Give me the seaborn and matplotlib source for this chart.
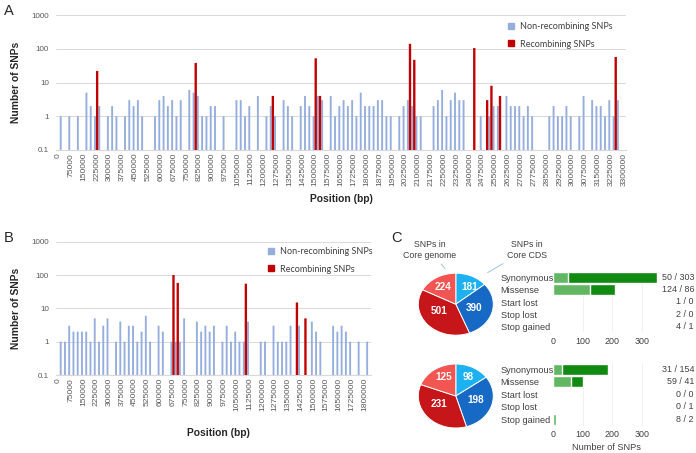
import matplotlib
matplotlib.use('Agg')
import matplotlib.pyplot as plt
from matplotlib.patches import Patch
from matplotlib.transforms import blended_transform_factory
import seaborn as sns

######### DATA #########
BIN = 25000  # bp per category

# panel A - whole genome, bin index (x25000 bp) and SNP counts
a_blue_bin = [0, 2, 4, 6, 7, 8, 9, 11, 12, 13, 15, 16, 17, 18, 19,
              22, 23, 24, 25, 26, 27, 28, 30, 31, 32, 33, 34, 35, 36, 38,
              41, 42, 43, 44, 46, 48, 49, 50, 52, 53, 54, 56, 57, 58, 59, 60, 61,
              63, 64, 65, 66, 67, 68, 69, 70, 71, 72, 73, 74, 75, 76, 77,
              79, 80, 81, 82, 83, 84, 87, 88, 89, 90, 91, 92, 93, 94, 98,
              100, 101, 102, 104, 105, 106, 107, 108, 109, 110,
              114, 115, 116, 117, 118, 119, 121, 122, 124, 125, 126, 127, 128, 129, 130]
a_blue_n = [1, 1, 1, 5, 2, 1, 2, 1, 2, 1, 1, 3, 2, 3, 1,
            1, 3, 4, 2, 3, 1, 3, 6, 5, 4, 1, 1, 2, 2, 1,
            3, 3, 1, 2, 4, 1, 2, 1, 3, 2, 1, 2, 4, 2, 1, 4, 3,
            4, 1, 2, 3, 2, 3, 1, 5, 2, 2, 2, 3, 3, 1, 1,
            1, 2, 3, 2, 1, 1, 2, 3, 6, 1, 3, 5, 3, 3, 1,
            1, 2, 2, 4, 2, 2, 2, 1, 2, 1,
            1, 2, 1, 1, 2, 1, 1, 4, 3, 2, 2, 1, 3, 1, 3]
a_red_bin = [9, 32, 50, 60, 61, 82, 83, 97, 100, 101, 103, 130]
a_red_n = [22, 38, 4, 52, 4, 140, 47, 105, 3, 8, 4, 57]
a_end = 3300000  # start of last bin

# panel B
b_blue_bin = [0, 1, 2, 3, 4, 5, 6, 7, 8, 9, 10, 11, 13, 14, 15, 16, 17, 18, 19, 20, 21,
              23, 24, 26, 27, 28, 29, 32, 33, 34, 35, 36, 38, 39, 40, 41, 42, 43, 44,
              47, 48, 50, 51, 52, 53, 54, 56, 59, 60, 61, 64, 65, 66, 67, 68, 70, 72]
b_blue_n = [1, 1, 3, 2, 2, 2, 2, 1, 5, 1, 3, 5, 1, 4, 1, 3, 3, 1, 2, 6, 1,
            3, 2, 1, 1, 1, 5, 4, 2, 3, 2, 3, 1, 3, 1, 2, 1, 1, 4,
            1, 1, 3, 1, 1, 1, 3, 3, 4, 2, 1, 3, 2, 3, 2, 1, 1, 1]
b_red_bin = [27, 28, 44, 56, 58]
b_red_n = [100, 58, 55, 15, 5]
b_end = 1825000

# panel C
c_types = ['Synonymous', 'Missense', 'Start lost', 'Stop lost', 'Stop gained']
c1_light = [50, 124, 1, 2, 4]
c1_dark = [303, 86, 0, 0, 1]
c2_light = [31, 59, 0, 0, 8]
c2_dark = [154, 41, 0, 1, 2]
pie1 = [181, 390, 501, 224]   # clockwise from top
pie2 = [98, 198, 231, 125]

BLUE = '#95AEDE'
RED = '#C00000'
GRID = '#D9D9D9'
TXT = '#595959'
PIE_COLS = ['#1CB1F0', '#1669C4', '#C7161A', '#F25552']
GREEN_L = '#62B862'
GREEN_D = '#118A11'

sns.set_style('white')
plt.rcParams['font.family'] = ['Liberation Sans', 'DejaVu Sans']

W, H = 696, 453
fig = plt.figure(figsize=(W / 100, H / 100), dpi=100)


def px_axes(l, t, w, h):
    # axes from pixel box (left, top, width, height)
    return fig.add_axes([l / W, 1 - (t + h) / H, w / W, h / H])


def snp_panel(ax, blue_bin, blue_n, red_bin, red_n, end, leg_xy):
    nb = end // BIN
    # bars start at the 0.1 floor of the log axis
    ax.bar([b + 0.6 for b in blue_bin], [n - 0.1 for n in blue_n], bottom=0.1, width=0.44,
           color=BLUE, linewidth=0, snap=False, zorder=2)
    ax.bar([b + 0.1 for b in red_bin], [n - 0.1 for n in red_n], bottom=0.1, width=0.55,
           color=RED, linewidth=0, snap=False, zorder=3)
    ax.set_yscale('log')
    ax.set_ylim(0.1, 1000)
    ax.set_xlim(-0.5, nb + 0.5)
    yt = [0.1, 1, 10, 100, 1000]
    ax.set_yticks(yt, ['0.1', '1', '10', '100', '1000'])
    ax.minorticks_off()
    xt = list(range(0, nb + 1, 3))
    ax.set_xticks(xt, [str(k * BIN) for k in xt], rotation=90)
    ax.tick_params(axis='y', length=0, pad=5, labelsize=5.8, labelcolor=TXT)
    ax.tick_params(axis='x', length=0, pad=2, labelsize=6.1, labelcolor=TXT)
    for y in yt[1:]:
        ax.axhline(y, color=GRID, lw=0.7, zorder=1)
    for s in ['top', 'right', 'left']:
        ax.spines[s].set_visible(False)
    ax.spines['bottom'].set_color(GRID)
    ax.spines['bottom'].set_linewidth(0.8)
    ax.set_ylabel('Number of SNPs', fontsize=7.4, fontweight='bold', color='#262626')
    ax.set_xlabel('Position (bp)', fontsize=7.4, fontweight='bold', color='#262626')
    handles = [Patch(color=BLUE, label='Non-recombining SNPs'),
               Patch(color=RED, label='Recombining SNPs')]
    ax.legend(handles=handles, loc='upper left', frameon=False,
              bbox_to_anchor=(leg_xy[0] / W, 1 - leg_xy[1] / H), bbox_transform=fig.transFigure,
              borderpad=0, borderaxespad=0, handlelength=0.65, handleheight=0.65,
              handletextpad=0.65, labelspacing=0.95,
              prop={'family': 'Lato', 'size': 6.5}, labelcolor='#404040')


# ---- panel A
axA = px_axes(56, 15, 570, 135)
snp_panel(axA, a_blue_bin, a_blue_n, a_red_bin, a_red_n, a_end, (508, 22))
axA.yaxis.set_label_coords((21 - 56) / 570, 0.5)
axA.xaxis.set_label_coords(0.5, -(194 - 150) / 135)

# ---- panel B
axB = px_axes(56, 241.7, 315, 133.3)
snp_panel(axB, b_blue_bin, b_blue_n, b_red_bin, b_red_n, b_end, (268, 247))
axB.yaxis.set_label_coords((21 - 56) / 315, 0.5)
axB.xaxis.set_label_coords((218 - 56) / 315, -(428 - 375) / 133.3)


# ---- panel C
def pie_panel(ax, vals, label_xy, notes):
    _, texts = ax.pie(vals, colors=PIE_COLS, startangle=90, counterclock=False,
                      labels=[str(v) for v in vals], labeldistance=0.6,
                      wedgeprops=dict(edgecolor='white', linewidth=0.7),
                      textprops=dict(color='white', fontsize=7.2, fontweight='bold',
                                     ha='center', va='center'))
    # nudge slice numbers to where the original tool put them
    for t, xy in zip(texts, label_xy):
        t.set_position(xy)
    ax.set_aspect('auto')
    ax.set_xlim(-1, 1)
    ax.set_ylim(-1, 1)
    if notes:
        kw = dict(fontsize=6.3, color='#404040', ha='center', va='center', annotation_clip=False,
                  arrowprops=dict(arrowstyle='-', color='#9CC3DD', lw=0.7, shrinkA=1, shrinkB=0))
        ax.annotate('SNPs in\nCore genome', xy=(-0.29, 1.15), xytext=(-0.69, 1.75), **kw)
        ax.annotate('SNPs in\nCore CDS', xy=(0.85, 1.02), xytext=(1.89, 1.75), **kw)


def bar_panel(ax, light, dark, show_xlabel):
    total = [l + d for l, d in zip(light, dark)]
    sns.barplot(x=total, y=c_types, color=GREEN_D, saturation=1, width=0.88, orient='h',
                errorbar=None, ax=ax, zorder=2)
    sns.barplot(x=light, y=c_types, color=GREEN_L, saturation=1, width=0.88, orient='h',
                errorbar=None, ax=ax, zorder=3)
    ax.set_xlim(0, 360)
    ax.set_xticks([0, 100, 200, 300])
    for x in [100, 200, 300]:
        ax.axvline(x, color='#EFEFEF', lw=0.6, zorder=1)
    ax.tick_params(axis='x', length=0, pad=3, labelsize=6.4, labelcolor='#404040')
    ax.tick_params(axis='y', length=0, pad=(553.3 - 500.7) * 0.72, labelsize=6.6, labelcolor='#404040')
    for t in ax.get_yticklabels():
        t.set_horizontalalignment('left')
    for s in ax.spines.values():
        s.set_visible(False)
    ax.set_ylabel('')
    tr = blended_transform_factory(ax.transAxes, ax.transData)
    wpx = ax.get_position().width * W
    for i, (l, d) in enumerate(zip(light, dark)):
        ax.text((694 - 553.3) / wpx, i, f'{l} / {d}', transform=tr, ha='right', va='center',
                fontsize=6.4, color='#404040')
    if show_xlabel:
        ax.set_xlabel('Number of SNPs', fontsize=6.6, color='#404040', labelpad=3)
    else:
        ax.set_xlabel('')


pA = px_axes(418.3, 273.2, 75, 62)
pie_panel(pA, pie1, [(0.36, 0.55), (0.5, -0.12), (-0.45, -0.22), (-0.33, 0.55)], True)
pB = px_axes(418.3, 364.0, 75, 64)
pie_panel(pB, pie2, [(0.33, 0.58), (0.52, -0.12), (-0.46, -0.24), (-0.33, 0.58)], False)

bA = px_axes(553.3, 271.6, 106, 60.8)
bar_panel(bA, c1_light, c1_dark, False)
bB = px_axes(553.3, 363.0, 106, 62.5)
bar_panel(bB, c2_light, c2_dark, True)

# panel letters
for lab, x, y in [('A', 4, 11), ('B', 4, 238), ('C', 391, 238)]:
    fig.text(x / W, 1 - y / H, lab, fontsize=10.5, color='#262626', ha='left', va='center')

fig.savefig('out.png', dpi=100)
